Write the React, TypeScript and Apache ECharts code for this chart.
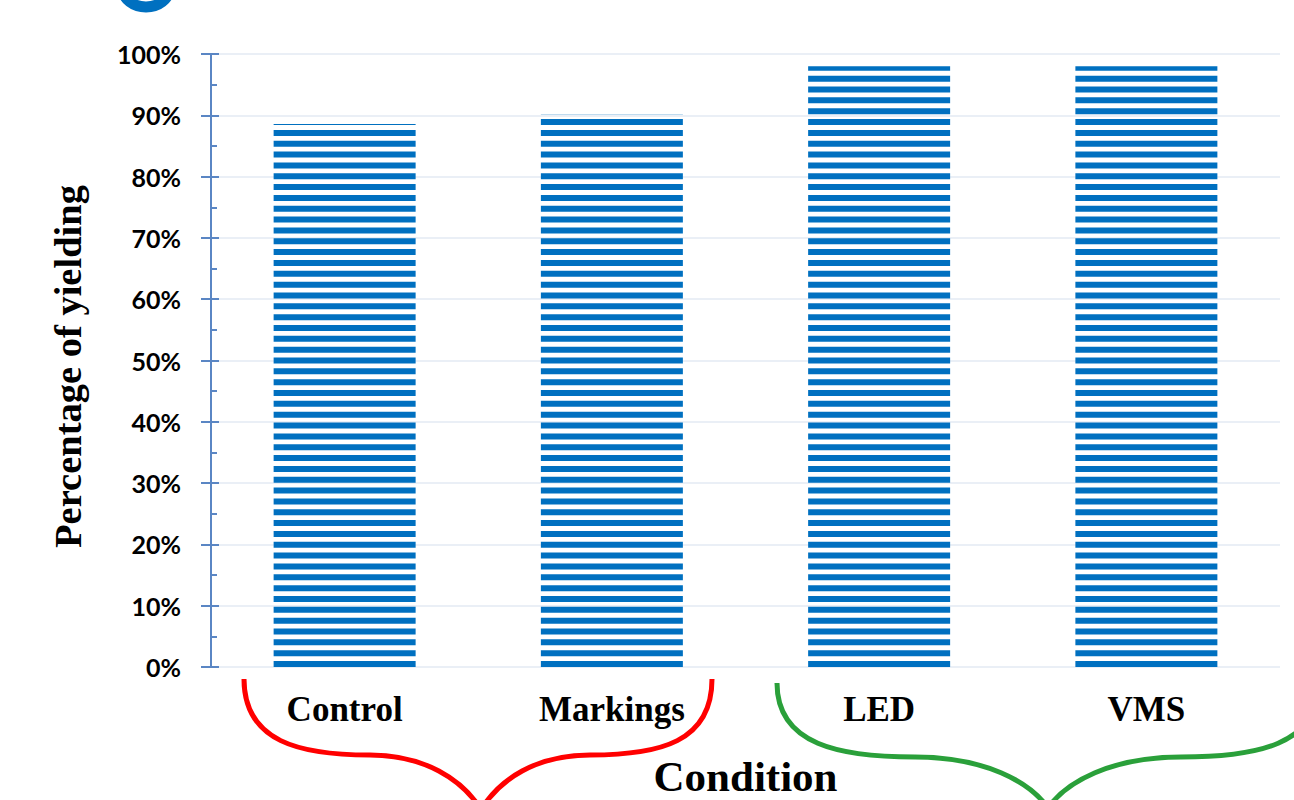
import React, { useEffect, useRef } from "react";
import * as echarts from "echarts";

const categories = ["Control", "Markings", "LED", "VMS"];
const yielding = [0.886, 0.902, 0.98, 0.98];
const yTicks = [0, 0.1, 0.2, 0.3, 0.4, 0.5, 0.6, 0.7, 0.8, 0.9, 1];

const BLUE = "#0070c0";
const AXIS = "#5a86c4";

export default function App() {
  const ref = useRef<HTMLDivElement>(null);
  useEffect(() => {
    if (!ref.current) return;
    const chart = echarts.init(ref.current, null, { renderer: "svg" });
    const braceRed = { stroke: "#ff0000", lineWidth: 5, fill: "none" };
    const braceGreen = { stroke: "#2aa03a", lineWidth: 5, fill: "none" };
    chart.setOption({
      animation: false,
      backgroundColor: "#ffffff",
      grid: {
        left: 211,
        right: 14,
        top: 54,
        bottom: 133,
        containLabel: false,
        outerBoundsMode: "none",
      },
      xAxis: {
        type: "category",
        data: categories,
        axisLine: { show: false },
        axisTick: { show: false },
        axisLabel: {
          margin: 25,
          fontFamily: "Liberation Serif",
          fontWeight: "bold",
          fontSize: 35,
          color: "#000",
        },
        name: "Condition",
        nameLocation: "middle",
        nameGap: 93,
        nameTextStyle: {
          fontFamily: "Liberation Serif",
          fontWeight: "bold",
          fontSize: 43,
          lineHeight: 32,
          color: "#000",
        },
      },
      yAxis: [
        {
          type: "value",
          min: 0,
          max: yTicks[yTicks.length - 1],
          interval: 0.1,
          axisLine: { show: true, lineStyle: { color: AXIS, width: 2 } },
          axisTick: { show: true, inside: false, length: 10, lineStyle: { color: AXIS, width: 2 } },
          splitLine: { show: true, lineStyle: { color: "#eaeff6", width: 2 } },
          axisLabel: {
            margin: 30,
            fontFamily: "Lato",
            fontWeight: "bold",
            fontSize: 25,
            color: "#000",
            formatter: (v: number) => Math.round(v * 100) + "%",
          },
          name: "Percentage of yielding",
          nameLocation: "middle",
          nameGap: 124,
          nameTextStyle: {
            fontFamily: "Liberation Serif",
            fontWeight: "bold",
            fontSize: 38.5,
            color: "#000",
            padding: [0, 12, 0, 0],
          },
        },
        {
          type: "value",
          position: "left",
          min: 0,
          max: yTicks[yTicks.length - 1],
          interval: 0.1,
          axisLine: { show: false },
          axisLabel: { show: false },
          splitLine: { show: false },
          axisTick: { show: true, inside: true, length: 8, lineStyle: { color: AXIS, width: 2 } },
          minorTick: { show: true, splitNumber: 2, length: 6, lineStyle: { color: AXIS, width: 2 } },
        },
      ],
      series: [
        {
          type: "pictorialBar",
          yAxisIndex: 0,
          data: yielding,
          symbol: "rect",
          symbolRepeat: true,
          symbolSize: [142, 6],
          symbolMargin: 2.5,
          symbolClip: true,
          itemStyle: { color: BLUE },
        },
      ],
      graphic: [
        {
          type: "ellipse",
          shape: { cx: 146, cy: -11, rx: 23, ry: 18 },
          style: { stroke: BLUE, lineWidth: 11, fill: "none" },
        },
        {
          type: "bezierCurve",
          shape: { x1: 244, y1: 679, cpx1: 244, cpy1: 742, cpx2: 300, cpy2: 755, x2: 370, y2: 755 },
          style: braceRed,
        },
        {
          type: "bezierCurve",
          shape: { x1: 370, y1: 755, cpx1: 425, cpy1: 755, cpx2: 462, cpy2: 780, x2: 480, y2: 808 },
          style: braceRed,
        },
        {
          type: "bezierCurve",
          shape: { x1: 712, y1: 679, cpx1: 712, cpy1: 742, cpx2: 660, cpy2: 755, x2: 590, y2: 755 },
          style: braceRed,
        },
        {
          type: "bezierCurve",
          shape: { x1: 590, y1: 755, cpx1: 535, cpy1: 755, cpx2: 500, cpy2: 780, x2: 482, y2: 808 },
          style: braceRed,
        },
        {
          type: "bezierCurve",
          shape: { x1: 777, y1: 683, cpx1: 777, cpy1: 745, cpx2: 840, cpy2: 757, x2: 915, y2: 757 },
          style: braceGreen,
        },
        {
          type: "bezierCurve",
          shape: { x1: 915, y1: 757, cpx1: 985, cpy1: 757, cpx2: 1030, cpy2: 782, x2: 1048, y2: 808 },
          style: braceGreen,
        },
        {
          type: "bezierCurve",
          shape: { x1: 1319, y1: 683, cpx1: 1319, cpy1: 745, cpx2: 1256, cpy2: 757, x2: 1181, y2: 757 },
          style: braceGreen,
        },
        {
          type: "bezierCurve",
          shape: { x1: 1181, y1: 757, cpx1: 1111, cpy1: 757, cpx2: 1066, cpy2: 782, x2: 1048, y2: 808 },
          style: braceGreen,
        },
      ],
    });
    return () => chart.dispose();
  }, []);
  return (
    <div
      ref={ref}
      style={{ position: "absolute", left: 0, top: 0, width: 1294, height: 800 }}
    />
  );
}
